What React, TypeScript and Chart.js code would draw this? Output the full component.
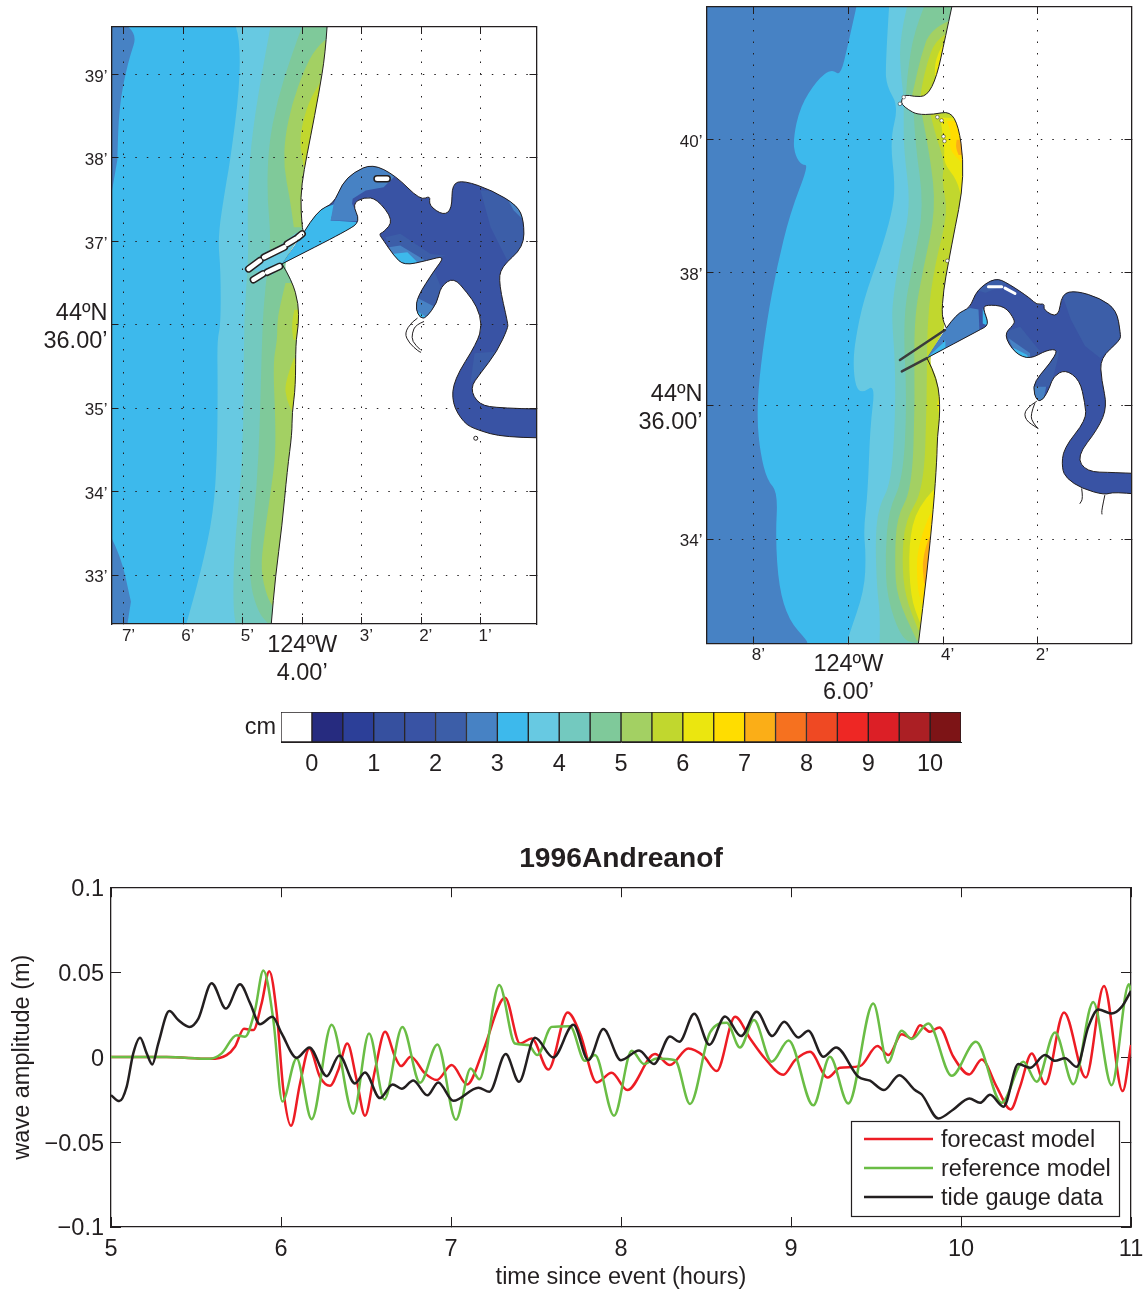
import React, { useEffect, useRef } from "react";
import { Chart, registerables } from "chart.js";

Chart.register(...registerables);
Chart.defaults.font.family = "'Liberation Sans', Arial, sans-serif";
Chart.defaults.color = "#231f20";

type P = [number, number];
const INK = "#231f20";
const C = {
  navy: "#3953a4", mid: "#3c5ea8", steel: "#4782c4", sky: "#3db9ec", light: "#67c9e2", teal: "#73c9bf",
  green: "#7fc99a", lime: "#a3d063", ygreen: "#c1d72e", yellow: "#ebe60f", gold: "#ffdd00", amber: "#fbae17",
};

/* ---------- wave gauge series: [hours, metres] ---------- */
const forecastSeries: P[] = [[5,0],[5.327,0],[5.582,-0.001],[5.68,0.0012],[5.729,0.0061],[5.782,0.0167],[5.837,0.0159],[5.886,0.0316],[5.931,0.0506],[5.975,0.0257],[6.014,-0.0194],[6.059,-0.0404],[6.112,-0.0155],[6.167,0.0051],[6.229,-0.0116],[6.288,-0.0169],[6.337,-0.0076],[6.39,0.008],[6.445,-0.0135],[6.494,-0.0345],[6.553,-0.0076],[6.612,0.0149],[6.671,0.0002],[6.706,-0.0053],[6.763,0.0002],[6.847,-0.0096],[6.916,-0.0135],[7.004,-0.0047],[7.094,-0.0161],[7.19,0.0041],[7.318,0.0349],[7.406,0.008],[7.475,0.011],[7.573,-0.0073],[7.686,0.0263],[7.759,0.0139],[7.857,-0.0149],[7.945,-0.0092],[8.037,-0.0194],[8.2,0.0018],[8.288,-0.0047],[8.396,0.0051],[8.484,0.0008],[8.563,-0.0082],[8.671,0.0237],[8.759,0.011],[8.847,-0.0008],[8.955,-0.0104],[9.024,-0.0018],[9.112,0.0031],[9.216,-0.012],[9.288,-0.0063],[9.406,-0.0053],[9.508,0.0065],[9.573,0.0012],[9.651,0.0135],[9.71,0.011],[9.759,0.0188],[9.818,0.0149],[9.873,0.0175],[9.955,0.0002],[10.049,-0.0102],[10.122,-0.0014],[10.21,-0.0175],[10.292,-0.0308],[10.347,-0.0175],[10.416,0.0022],[10.495,-0.0159],[10.606,0.0263],[10.734,-0.012],[10.841,0.0418],[10.951,-0.02],[11,0.0071]];
const referenceSeries: P[] = [[5,0],[5.327,0],[5.582,-0.001],[5.651,0.0022],[5.739,0.0129],[5.788,0.012],[5.847,0.0276],[5.896,0.051],[5.955,0.0218],[6.008,-0.0261],[6.092,-0.0008],[6.18,-0.0365],[6.298,0.019],[6.425,-0.0333],[6.518,0.0139],[6.608,-0.0249],[6.714,0.0178],[6.818,-0.0151],[6.92,0.0075],[7.029,-0.0369],[7.116,-0.0067],[7.167,-0.0131],[7.284,0.0424],[7.376,0.008],[7.455,0.0071],[7.508,0.0012],[7.592,0.0178],[7.7,0.0182],[7.788,-0.0022],[7.847,0.0012],[7.959,-0.0345],[8.063,0.0037],[8.135,-0.0041],[8.21,-0.0008],[8.318,-0.0018],[8.406,-0.0276],[8.524,0.0145],[8.622,0.0202],[8.7,0.0057],[8.782,0.0218],[8.886,-0.0027],[8.986,0.0098],[9.131,-0.0284],[9.229,0.0002],[9.337,-0.0273],[9.484,0.0316],[9.569,-0.0033],[9.651,0.0155],[9.71,0.0106],[9.808,0.0198],[9.945,-0.011],[10.088,0.009],[10.239,-0.0269],[10.367,-0.0027],[10.445,-0.0145],[10.553,0.0145],[10.661,-0.0159],[10.778,0.0325],[10.886,-0.0165],[10.988,0.0429],[11,0.0384]];
const gaugeSeries: P[] = [[5,-0.0224],[5.049,-0.0259],[5.092,-0.0175],[5.131,0.0022],[5.171,0.0114],[5.21,0.0022],[5.243,-0.0043],[5.278,0.008],[5.343,0.0271],[5.396,0.0218],[5.461,0.0178],[5.514,0.0227],[5.592,0.0435],[5.676,0.0286],[5.759,0.0429],[5.818,0.0318],[5.876,0.0194],[5.949,0.0237],[6.004,0.0139],[6.092,-0.0004],[6.167,0.0057],[6.269,-0.0112],[6.343,0.001],[6.435,-0.0155],[6.494,-0.009],[6.582,-0.0241],[6.657,-0.0161],[6.71,-0.0186],[6.778,-0.0137],[6.861,-0.0225],[6.925,-0.0149],[7.014,-0.0257],[7.161,-0.018],[7.226,-0.0204],[7.322,0.0018],[7.4,-0.0145],[7.494,0.0114],[7.602,-0.0002],[7.72,0.019],[7.808,-0.0018],[7.896,0.0165],[8,-0.0018],[8.106,0.0039],[8.194,-0.0041],[8.288,0.0122],[8.343,0.009],[8.431,0.0255],[8.52,0.0073],[8.612,0.0239],[8.706,0.0124],[8.798,0.0267],[8.89,0.0124],[8.96,0.0208],[9.043,0.0116],[9.102,0.0155],[9.19,0.0002],[9.265,0.0057],[9.396,-0.0116],[9.465,-0.0139],[9.547,-0.0194],[9.637,-0.0106],[9.729,-0.0194],[9.769,-0.022],[9.867,-0.0361],[9.955,-0.0308],[10.049,-0.0243],[10.112,-0.0269],[10.171,-0.0222],[10.25,-0.0292],[10.337,-0.0041],[10.406,-0.0063],[10.494,0.0012],[10.553,-0.0022],[10.612,-0.0006],[10.68,-0.0057],[10.749,0.0178],[10.808,0.028],[10.886,0.0257],[10.945,0.0296],[11,0.039]];
const timeTicks = [5, 6, 7, 8, 9, 10, 11];
const waveTicks = [-0.1, -0.05, 0, 0.05, 0.1];
const waveTickLabels = ["\u22120.1", "\u22120.05", "0", "0.05", "0.1"];
const legendNames = ["forecast model", "reference model", "tide gauge data"];

/* ---------- colour bar ---------- */
const barLower = [-0.5,0,0.5,1,1.5,2,2.5,3,3.5,4,4.5,5,5.5,6,6.5,7,7.5,8,8.5,9,9.5,10];
const barColours = ["#ffffff","#262b7f","#2c3f98","#36509f","#3953a4","#3c5ea8","#4782c4","#3db9ec","#67c9e2","#73c9bf","#7fc99a","#a3d063","#c1d72e","#ebe60f","#ffdd00","#fbae17","#f6711f","#ef4923","#ee2724","#dc1f26","#ab1f24","#7d1416"];
const barTicks = [0,1,2,3,4,5,6,7,8,9,10];

/* ---------- left map: [minutes W of 124, minutes N of 44] ---------- */
const L = { w: 7.207, e: 0.058, s: 32.413, n: 39.57 };
const leftLon = [7,6,5,4,3,2,1];
const leftLat = [33,34,35,36,37,38,39];
const leftBase: P[] = [[7.21,39.58],[7.21,32.41],[0.06,32.41],[0.06,39.58]];
const leftDeepNorth: P[] = [[7.3,39.7],[6.73,39.58],[6.94,39.13],[7.08,38.61],[7.11,37.97],[7.25,37.4],[7.3,37.4]];
const leftDeepSouth: P[] = [[7.25,33.5],[7.06,33.26],[6.88,32.68],[6.94,32.41],[7.21,32.41]];
const leftLight: P[] = [[5.12,39.58],[5.05,39.45],[5.05,38.85],[5.21,37.97],[5.29,37.65],[5.42,37.05],[5.37,36.65],[5.37,36.0],[5.43,35.82],[5.42,35.26],[5.43,34.46],[5.49,33.74],[5.71,33.02],[5.95,32.41],[0.06,32.41],[0.06,39.58]];
const leftTeal: P[] = [[4.53,39.58],[4.64,39.17],[4.81,38.45],[4.90,37.85],[4.92,37.25],[4.90,36.85],[4.98,36.06],[4.98,35.26],[5.01,34.26],[5.15,33.26],[5.16,32.62],[5.12,32.41],[0.06,32.41],[0.06,39.58]];
const leftGreen: P[] = [[4.0,39.58],[4.17,39.25],[4.42,38.69],[4.57,38.13],[4.59,37.53],[4.52,37.01],[4.62,36.46],[4.67,35.98],[4.71,34.86],[4.76,34.06],[4.88,33.26],[4.87,32.86],[4.73,32.54],[4.56,32.41],[0.06,32.41],[0.06,39.58]];
const leftLimeNorth: P[] = [[3.62,39.41],[3.78,39.31],[3.97,39.05],[4.17,38.65],[4.29,38.25],[4.31,37.89],[4.21,37.53],[4.14,37.17],[3.47,37.17],[3.47,39.41]];
const leftLimeSouth: P[] = [[4.28,36.5],[4.39,36.18],[4.42,36.0],[4.42,35.82],[4.49,35.54],[4.45,34.86],[4.45,34.46],[4.50,34.14],[4.64,33.46],[4.70,33.06],[4.59,32.74],[4.49,32.62],[3.9,32.62],[3.9,36.5]];
const leftOliveNorth: P[] = [[3.69,38.91],[3.86,38.73],[4.0,38.41],[4.04,38.17],[3.97,37.89],[3.5,37.89],[3.5,38.91]];
const leftOliveMid: P[] = [[4.13,36.18],[4.18,36.02],[4.15,35.82],[3.8,35.82],[3.8,36.18]];
const leftOliveSouth: P[] = [[4.14,35.6],[4.30,35.3],[4.26,35.1],[4.17,34.96],[3.8,34.96],[3.8,35.6]];
const leftMouth: P[] = [[4.9,36.67],[4.1,37.1],[4.0,37.12],[4.34,36.73],[4.5,36.6]];
const leftLand: P[] = [[3.58,39.58],[3.61,39.25],[3.72,38.77],[3.86,38.25],[3.97,37.85],[4.03,37.53],[4.0,37.17],[3.98,37.12],[4.34,36.73],[4.17,36.53],[4.06,36.25],[4.06,36.0],[4.11,35.78],[4.11,35.26],[4.17,34.94],[4.17,34.7],[4.25,34.26],[4.34,33.58],[4.45,32.98],[4.52,32.41],[0.06,32.41],[0.06,39.58]];
const leftCoastNorth: P[] = [[3.58,39.58],[3.61,39.25],[3.72,38.77],[3.86,38.25],[3.97,37.85],[4.03,37.53],[4.0,37.17],[3.98,37.12]];
const leftCoastSouth: P[] = [[4.34,36.73],[4.17,36.53],[4.06,36.25],[4.06,36.0],[4.11,35.78],[4.11,35.26],[4.17,34.94],[4.17,34.7],[4.25,34.26],[4.34,33.58],[4.45,32.98],[4.52,32.41]];
const leftBay: P[] = [[3.97,37.11],[3.75,37.37],[3.47,37.45],[3.33,37.69],[3.13,37.83],[2.82,37.93],[2.43,37.79],[2.01,37.49],[1.84,37.55],[1.87,37.43],[1.62,37.31],[1.48,37.39],[1.48,37.69],[1.28,37.73],[0.80,37.61],[0.38,37.43],[0.27,37.25],[0.27,36.93],[0.66,36.69],[0.69,36.49],[0.54,36.02],[0.54,35.96],[0.72,35.68],[1.0,35.42],[1.18,35.24],[1.03,35.04],[0.66,35.0],[-0.6,34.98],[-0.6,34.64],[0.61,34.65],[1.06,34.74],[1.28,34.82],[1.48,35.06],[1.45,35.34],[1.06,35.78],[0.97,36.0],[1.06,36.22],[1.22,36.38],[1.45,36.57],[1.67,36.46],[1.73,36.26],[1.92,36.08],[2.01,36.08],[2.09,36.18],[2.06,36.34],[1.78,36.65],[1.59,36.83],[1.90,36.77],[2.29,36.71],[2.46,36.83],[2.63,37.01],[2.71,37.09],[2.63,37.11],[2.46,37.25],[2.74,37.51],[2.96,37.53],[3.16,37.45],[3.02,37.24],[3.24,37.13],[4.34,36.73]];
const leftChannel: P[] = [[3.97,37.11],[3.75,37.37],[3.44,37.45],[3.52,37.25],[3.02,37.23],[3.24,37.13],[4.34,36.73]];
const leftUpperBay: P[] = [[3.47,37.45],[3.33,37.69],[3.13,37.83],[2.82,37.93],[2.43,37.79],[2.63,37.65],[2.93,37.61],[3.15,37.51],[3.16,37.45],[3.02,37.24],[3.52,37.25]];
const leftEastBay: P[] = [[1.0,37.61],[0.80,37.61],[0.38,37.43],[0.27,37.25],[0.27,36.93],[0.55,36.77],[0.83,37.17]];
const leftEastShoal: P[] = [[0.58,37.55],[0.38,37.43],[0.27,37.25],[0.44,37.37]];
const leftSouthBayMid: P[] = [[2.60,37.05],[2.35,37.09],[1.84,36.85],[1.59,36.83],[1.90,36.77],[2.29,36.71],[2.46,36.83]];
const leftSouthBayShoal: P[] = [[2.54,36.93],[2.35,36.95],[1.93,36.77],[2.29,36.71],[2.46,36.83]];
const leftSouthBaySky: P[] = [[2.49,36.85],[2.23,36.87],[2.06,36.75],[2.29,36.71]];
const leftArm: P[] = [[2.06,36.34],[1.78,36.65],[1.67,36.46],[1.73,36.26],[1.92,36.08],[2.09,36.18]];
const leftArmTip: P[] = [[2.06,36.32],[1.78,36.22],[1.92,36.08],[2.01,36.08],[2.09,36.18]];
const leftArmSky: P[] = [[2.09,36.17],[1.92,36.1],[2.01,36.08]];
const leftRiverPatch: P[] = [[1.1,35.66],[0.72,35.68],[1.0,35.42],[1.17,35.3]];
const leftSloughOuter: P[] = [[2.06,36.08],[2.15,36.04],[2.28,35.9],[2.2,35.78],[2.04,35.68],[2.0,35.67]];
const leftSloughInner: P[] = [[1.95,36.04],[2.09,36.0],[2.15,35.9],[2.15,35.8],[2.01,35.7]];
const leftIslands: P[][] = [[[4.9,36.67],[4.71,36.77]],[[4.64,36.81],[4.30,36.93]],[[4.25,36.97],[4.11,37.03]],[[4.07,37.05],[4.0,37.09]],[[4.82,36.54],[4.66,36.61]],[[4.59,36.63],[4.38,36.70]],[[2.74,37.75],[2.57,37.75]]];
const leftPond: P[] = [[1.08,34.64]];

/* ---------- right map ---------- */
const R = { w: 8.998, e: 0.017, s: 32.43, n: 41.995 };
const rightLon = [8,6,4,2];
const rightLat = [34,36,38,40];
const rightBase: P[] = [[9,42],[9,32.43],[0.02,32.43],[0.02,42]];
const rightSky: P[] = [[5.83,42.0],[6.0,41.45],[6.17,40.95],[6.35,41.07],[6.66,40.9],[7.02,40.5],[7.17,40.0],[7.12,39.75],[6.98,39.62],[6.84,39.62],[7.23,38.9],[7.51,38.09],[7.72,37.29],[7.89,36.39],[7.93,35.79],[7.86,35.29],[7.72,34.89],[7.49,34.70],[7.54,34.03],[7.47,33.28],[7.26,32.78],[6.87,32.47],[6.87,32.43],[0.02,32.43],[0.02,42]];
const rightLight: P[] = [[5.14,42],[5.22,41.1],[5.19,40.8],[4.94,40.5],[5.12,40],[5.01,39.3],[5.08,38.9],[5.33,38.29],[5.68,37.59],[5.85,37.01],[5.90,36.64],[5.85,36.29],[5.71,36.19],[5.43,36.33],[5.54,35.69],[5.59,34.69],[5.68,34.13],[5.63,33.78],[5.66,33.23],[6.0,32.53],[6.03,32.43],[0.02,32.43],[0.02,42]];
const rightTeal: P[] = [[4.76,42],[4.93,41.5],[4.88,40.9],[4.83,40.65],[4.83,40.35],[4.83,39.85],[4.68,39],[4.91,38.29],[5.06,37.59],[5.08,37.29],[5.01,36.64],[5.01,35.79],[5.10,34.84],[5.36,34.48],[5.43,34.03],[5.40,33.28],[5.33,32.88],[5.34,32.43],[0.02,32.43],[0.02,42]];
const rightGreenNorth: P[] = [[4.40,42],[4.62,41.61],[4.75,41],[4.78,40.68],[3.5,40.68],[3.5,42]];
const rightLimeNorth: P[] = [[3.89,41.78],[4.27,41.66],[4.47,41.25],[4.61,40.8],[4.66,40.65],[3.8,40.65],[3.8,41.78]];
const rightOliveNorth: P[] = [[3.96,41.58],[4.17,41.48],[4.34,41.15],[4.45,40.8],[4.48,40.63],[3.9,40.63],[3.9,41.58]];
const rightYellowNorth: P[] = [[4.03,41.40],[4.17,41.2],[4.17,40.95],[3.9,40.95],[3.9,41.4]];
const rightGreenSouth: P[] = [[4.62,40.4],[4.59,39.95],[4.40,39],[4.62,38.19],[4.85,37.34],[4.76,36.04],[4.85,34.89],[5.15,34.43],[5.22,33.78],[5.19,33.13],[4.87,32.48],[4.52,32.43],[3.0,32.43],[3.0,40.4]];
const rightLimeSouth: P[] = [[4.45,40.4],[4.27,39.75],[4.15,38.95],[4.41,38.09],[4.62,37.29],[4.59,36.04],[4.66,34.74],[4.98,34.33],[5.02,33.68],[4.98,33.13],[4.55,32.47],[3.0,32.47],[3.0,40.4]];
const rightOliveSouth: P[] = [[4.27,40.4],[4.17,40.1],[3.96,39.65],[4.03,39.40],[3.89,38.9],[4.17,38.14],[4.34,37.29],[4.34,36.04],[4.41,34.74],[4.80,34.28],[4.87,33.68],[4.80,33.13],[4.52,32.63],[3.0,32.63],[3.0,40.4]];
const rightYellowUpper: P[] = [[4.06,40.33],[3.96,39.9],[3.99,39.65],[3.71,39.4],[3.6,39.1],[3.4,39.1],[3.4,40.33]];
const rightGoldUpper: P[] = [[3.92,40.28],[3.81,40.1],[3.89,39.87],[3.60,39.65],[3.4,39.65],[3.4,40.28]];
const rightAmberUpper: P[] = [[3.71,40],[3.74,39.9],[3.67,39.77],[3.4,39.77],[3.4,40]];
const rightYellowMid: P[] = [[4.06,36.19],[4.15,36.04],[4.06,35.84],[3.9,35.84],[3.9,36.19]];
const rightYellowMid2: P[] = [[4.10,35.54],[4.15,35.3],[4.13,35.19],[3.9,35.19],[3.9,35.54]];
const rightYellowSouth: P[] = [[4.20,34.74],[4.55,34.48],[4.73,33.93],[4.69,33.13],[4.48,32.73],[4.0,32.73],[4.0,34.74]];
const rightGoldSouth: P[] = [[4.27,34.38],[4.55,33.93],[4.55,33.28],[4.45,33.03],[4.0,33.03],[4.0,34.38]];
const rightAmberSouth: P[] = [[4.29,34.03],[4.45,33.73],[4.40,33.33],[4.0,33.33],[4.0,34.03]];
const rightCoastNorth: P[] = [[3.81,42.01],[3.96,41.51],[4.13,40.95],[4.34,40.65],[4.62,40.65],[4.80,40.68],[4.88,40.6],[4.87,40.53],[4.73,40.45],[4.55,40.38],[4.20,40.38],[3.85,40.43],[3.67,40.2],[3.57,39.7],[3.60,39.2],[3.74,38.7],[3.89,38.14],[3.99,37.74],[4.03,37.34],[3.93,37.17]];
const rightCoastSouth: P[] = [[4.34,36.72],[4.10,36.39],[4.06,35.89],[4.12,35.54],[4.13,35.19],[4.20,34.48],[4.34,33.48],[4.52,32.43]];
const rightLand: P[] = [...rightCoastNorth, ...rightCoastSouth, [0.02,32.43],[0.02,42]];
const rightBay: P[] = [[3.93,37.17],[3.71,37.39],[3.43,37.47],[3.29,37.74],[2.90,37.93],[2.62,37.84],[2.16,37.62],[2.02,37.52],[1.85,37.54],[1.88,37.44],[1.56,37.32],[1.49,37.69],[1.18,37.73],[0.68,37.62],[0.33,37.44],[0.25,37.09],[0.25,36.99],[0.68,36.72],[0.65,36.39],[0.53,35.99],[0.72,35.66],[1.18,35.24],[0.97,35.01],[0.40,35.0],[-0.6,34.97],[-0.6,34.64],[0.40,34.71],[0.58,34.66],[1.07,34.76],[1.39,34.91],[1.49,35.06],[1.46,35.36],[0.97,35.79],[1.0,36.04],[1.11,36.39],[1.42,36.55],[1.67,36.44],[1.74,36.29],[1.88,36.09],[2.02,36.07],[2.11,36.29],[1.95,36.47],[1.74,36.64],[1.56,36.85],[1.81,36.84],[2.16,36.70],[2.48,36.79],[2.72,37.07],[2.51,37.22],[2.48,37.29],[2.69,37.50],[3.08,37.52],[3.16,37.47],[3.02,37.22],[3.23,37.14],[4.34,36.72]];
const rightChannel: P[] = [[3.93,37.17],[3.71,37.39],[3.43,37.47],[3.25,37.45],[3.23,37.14],[4.34,36.72]];
const rightChannelSky: P[] = [[4.34,36.72],[3.95,36.98],[3.95,36.8]];
const rightNookSky: P[] = [[3.16,37.47],[3.04,37.2],[3.16,37.24]];
const rightSouthBay: P[] = [[2.58,37.14],[2.37,37.19],[1.95,36.82],[2.16,36.70],[2.48,36.79],[2.72,37.07]];
const rightSouthBayShoal: P[] = [[2.62,37.02],[2.16,36.79],[2.16,36.70],[2.48,36.79]];
const rightSouthBaySky: P[] = [[2.51,36.87],[2.23,36.77],[2.16,36.70],[2.48,36.79]];
const rightArmTip: P[] = [[2.11,36.29],[1.78,36.42],[1.88,36.09],[2.02,36.07]];
const rightArm: P[] = [[1.95,36.47],[1.74,36.64],[1.56,36.85],[1.56,36.75],[1.67,36.44],[1.74,36.29],[2.11,36.29]];
const rightEastBay: P[] = [[1.49,37.69],[1.18,37.73],[0.68,37.62],[0.33,37.44],[0.25,37.09],[0.25,36.99],[0.68,36.72],[1.0,36.9],[1.3,37.3]];
const rightNorthArc: P[] = [[3.29,37.74],[2.90,37.93],[2.62,37.84],[3.1,37.7]];
const rightStubA: P[] = [[1.07,34.76],[1.04,34.61],[1.11,34.53]];
const rightStubB: P[] = [[0.58,34.66],[0.65,34.43],[0.64,34.37]];
const rightSloughOuter: P[] = [[2.02,36.07],[2.27,35.96],[2.27,35.79],[1.99,35.66]];
const rightSloughInner: P[] = [[2.06,36.04],[2.16,35.86],[2.09,35.74],[1.99,35.66]];
const rightJettyNorth: P[] = [[3.96,37.14],[4.91,36.69]];
const rightJettySouth: P[] = [[4.34,36.72],[4.87,36.52]];
const rightSlits: P[][] = [[[3.04,37.79],[2.76,37.79]],[[2.69,37.77],[2.48,37.69]]];
const rightSpecks: P[] = [[4.03,40.29],[3.99,40.05],[3.97,39.98],[3.91,38.18],[4.12,40.34],[4.91,40.54],[4.83,40.64]];

const xy = (pts: P[]) => pts.map(([x, y]) => ({ x, y }));
const hidden = { showLine: false, pointRadius: 0 };
const poly = (pts: P[], color: string, tail = 2) => ({ data: xy(pts), polygon: color, tail, ...hidden });
const bayFill = (pts: P[], color: string) => ({ data: xy(pts), polygon: color, tail: 0, bay: true, ...hidden });
const region = (pts: P[], color: string) => ({ data: xy(pts), polygon: color, tail: pts.length, inside: true, ...hidden });
const outline = (pts: P[]) => ({ data: xy(pts), outline: INK, tail: 0, ...hidden });
const line = (pts: P[], color = INK, width = 1) => ({ data: xy(pts), showLine: true, borderColor: color, borderWidth: width, pointRadius: 0, tension: 0, borderCapStyle: "round", borderJoinStyle: "round" });
const stacked = (list: any[]) => list.map((d, i) => ({ ...d, order: -i }));

function trace(ctx: any, p: any[], tail: number) {
  const n = p.length;
  const m = n - tail;
  ctx.moveTo(p[0].x, p[0].y);
  for (let i = 1; i < m - 1; i++) {
    ctx.quadraticCurveTo(p[i].x, p[i].y, (p[i].x + p[i + 1].x) / 2, (p[i].y + p[i + 1].y) / 2);
  }
  if (m >= 2) ctx.lineTo(p[m - 1].x, p[m - 1].y);
  for (let k = Math.max(m, 0); k < n; k++) ctx.lineTo(p[k].x, p[k].y);
}

const polygonFill = {
  id: "polygonFill",
  beforeDatasetsDraw(chart: any) {
    const { ctx, chartArea: a } = chart;
    ctx.save();
    ctx.beginPath();
    ctx.rect(a.left, a.top, a.right - a.left, a.bottom - a.top);
    ctx.clip();
    let bayPts: any[] | null = null;
    chart.data.datasets.forEach((ds: any, i: number) => {
      const pts = chart.getDatasetMeta(i).data;
      if (ds.polygon) {
        if (ds.bay) bayPts = pts;
        ctx.save();
        if (ds.inside && bayPts) {
          ctx.beginPath();
          trace(ctx, bayPts, 0);
          ctx.closePath();
          ctx.clip();
        }
        ctx.beginPath();
        trace(ctx, pts, ds.tail);
        ctx.closePath();
        ctx.fillStyle = ds.polygon;
        ctx.fill();
        ctx.restore();
      } else if (ds.outline) {
        ctx.beginPath();
        trace(ctx, pts, 0);
        ctx.strokeStyle = ds.outline;
        ctx.lineWidth = 1;
        ctx.stroke();
      }
    });
    ctx.restore();
  },
};

const legendBox = {
  id: "legendBox",
  afterDatasetsDraw(chart: any) {
    const { ctx } = chart;
    ctx.save();
    ctx.fillStyle = "#fff";
    ctx.strokeStyle = INK;
    ctx.lineWidth = 1.2;
    ctx.fillRect(851.5, 281.5, 268, 95);
    ctx.strokeRect(851.5, 281.5, 268, 95);
    ctx.font = "23.5px 'Liberation Sans'";
    ctx.textBaseline = "middle";
    chart.data.datasets.forEach((ds: any, i: number) => {
      const y = 299 + i * 29;
      ctx.strokeStyle = ds.borderColor;
      ctx.lineWidth = 2.5;
      ctx.beginPath();
      ctx.moveTo(864, y);
      ctx.lineTo(933, y);
      ctx.stroke();
      ctx.fillStyle = INK;
      ctx.fillText(ds.label, 941, y + 1.5);
    });
    ctx.restore();
  },
};

const small = { family: "'Liberation Sans'", size: 17, lineHeight: 0.6 };
const smallY = { family: "'Liberation Sans'", size: 17, lineHeight: 1.2 };
const big = { family: "'Liberation Sans'", size: 23.5, lineHeight: 1.2 };

const noPadding = (s: any) => { s.paddingLeft = 0; s.paddingRight = 0; s.paddingTop = 0; s.paddingBottom = 0; };
const fixX = (h: number) => (s: any) => { s.height = h; noPadding(s); };
const fixY = (w: number) => (s: any) => { s.width = w; noPadding(s); };

function mapOptions(box: any, lons: number[], lats: number[], bigLon: number, lonText: string[], bottom: number, left: number, right: number, top: number): any {
  const setTicks = (list: number[]) => (s: any) => { s.ticks = list.map((value) => ({ value })); };
  const grid = { color: INK, lineWidth: 1, tickLength: -7, tickColor: INK, z: 1 };
  const border = { color: INK, width: 1.3, dash: [1.5, 10], z: 2 };
  return {
    responsive: false, animation: false, events: [],
    layout: { autoPadding: false, padding: { left: 0, right, top, bottom: 0 } },
    plugins: { legend: { display: false }, tooltip: { enabled: false }, title: { display: false } },
    scales: {
      x: {
        type: "linear", position: "bottom", reverse: true, min: box.e, max: box.w,
        afterBuildTicks: setTicks(lons), afterFit: fixX(bottom), grid, border,
        ticks: {
          autoSkip: false, maxRotation: 0, minRotation: 0, padding: 14, color: INK,
          font: (c: any) => (c.tick && c.tick.value === bigLon ? big : small),
          callback: (v: number) => (v === bigLon ? lonText : `  ${v}\u2019`),
        },
      },
      y: {
        type: "linear", position: "left", min: box.s, max: box.n,
        afterBuildTicks: setTicks(lats), afterFit: fixY(left), grid, border,
        ticks: {
          autoSkip: false, padding: 11, color: INK, labelOffset: 2.5,
          font: (c: any) => (c.tick && c.tick.value === 36 ? big : smallY),
          callback: (v: number) => (v === 36 ? ["44\u00baN", "36.00\u2019"] : `${v}\u2019`),
        },
      },
      xTop: {
        type: "linear", position: "top", reverse: true, min: box.e, max: box.w,
        afterBuildTicks: setTicks(lons), afterFit: fixX(0),
        grid: { ...grid, drawOnChartArea: false }, border, ticks: { display: false },
      },
      yRight: {
        type: "linear", position: "right", min: box.s, max: box.n,
        afterBuildTicks: setTicks(lats), afterFit: fixY(0),
        grid: { ...grid, drawOnChartArea: false }, border, ticks: { display: false },
      },
    },
  };
}

const leftDatasets = stacked([
  poly(leftBase, C.sky, 4), poly(leftDeepNorth, C.steel), poly(leftDeepSouth, C.steel), poly(leftLight, C.light), poly(leftTeal, C.teal),
  poly(leftGreen, C.green), poly(leftLimeNorth, C.lime), poly(leftLimeSouth, C.lime), poly(leftOliveNorth, C.ygreen),
  poly(leftOliveMid, C.ygreen), poly(leftOliveSouth, C.ygreen), poly(leftMouth, C.light, 5), poly(leftLand, "#ffffff"),
  outline(leftCoastNorth), outline(leftCoastSouth),
  bayFill(leftBay, C.navy), region(leftChannel, C.sky), region(leftUpperBay, C.steel), region(leftEastBay, C.mid),
  region(leftEastShoal, C.steel), region(leftSouthBayMid, C.mid), region(leftSouthBayShoal, C.steel), region(leftSouthBaySky, C.sky),
  region(leftArm, C.mid), region(leftArmTip, C.steel), region(leftArmSky, C.sky), region(leftRiverPatch, C.mid),
  outline(leftBay), outline(leftSloughOuter), outline(leftSloughInner),
  ...leftIslands.map((p) => line(p, INK, 7.5)), ...leftIslands.map((p) => line(p, "#ffffff", 4.5)),
  { data: xy(leftPond), showLine: false, pointRadius: 2, pointBackgroundColor: "#fff", pointBorderColor: INK, pointBorderWidth: 1 },
]);

const rightDatasets = stacked([
  poly(rightBase, C.steel, 4), poly(rightSky, C.sky), poly(rightLight, C.light), poly(rightTeal, C.teal), poly(rightGreenNorth, C.green),
  poly(rightLimeNorth, C.lime), poly(rightOliveNorth, C.ygreen), poly(rightYellowNorth, C.yellow),
  poly(rightGreenSouth, C.green), poly(rightLimeSouth, C.lime), poly(rightOliveSouth, C.ygreen),
  poly(rightYellowUpper, C.yellow), poly(rightGoldUpper, C.gold), poly(rightAmberUpper, C.amber),
  poly(rightYellowMid, C.yellow), poly(rightYellowMid2, C.yellow), poly(rightYellowSouth, C.yellow),
  poly(rightGoldSouth, C.gold), poly(rightAmberSouth, C.amber), poly(rightLand, "#ffffff"),
  outline(rightCoastNorth), outline(rightCoastSouth),
  bayFill(rightBay, C.navy), region(rightChannel, C.steel), region(rightChannelSky, C.sky), region(rightNookSky, C.sky),
  region(rightSouthBay, C.mid), region(rightSouthBayShoal, C.steel), region(rightSouthBaySky, C.sky),
  region(rightArmTip, C.steel), region(rightArm, C.mid), region(rightEastBay, C.mid), region(rightNorthArc, C.mid),
  outline(rightBay), outline(rightStubA), outline(rightStubB), outline(rightSloughOuter), outline(rightSloughInner),
  line(rightJettyNorth, "#3a3a3c", 2.5), line(rightJettySouth, "#3a3a3c", 2.5),
  ...rightSlits.map((p) => line(p, "#ffffff", 3)),
  { data: xy(rightSpecks), showLine: false, pointRadius: 1.8, pointBackgroundColor: "#fff", pointBorderColor: INK, pointBorderWidth: 0.5 },
]);

function useChart(ref: React.RefObject<HTMLCanvasElement | null>, build: () => any) {
  useEffect(() => {
    const chart = new Chart(ref.current as HTMLCanvasElement, build());
    return () => chart.destroy();
  }, []);
}

export default function App() {
  const leftRef = useRef<HTMLCanvasElement>(null);
  const rightRef = useRef<HTMLCanvasElement>(null);
  const barRef = useRef<HTMLCanvasElement>(null);
  const waveRef = useRef<HTMLCanvasElement>(null);

  useChart(leftRef, () => ({
    type: "scatter",
    data: { datasets: leftDatasets },
    options: mapOptions(L, leftLon, leftLat, 4, ["124\u00baW", "4.00\u2019"], 76, 111.5, 560 - 536.5, 27),
    plugins: [polygonFill],
  }));
  useChart(rightRef, () => ({
    type: "scatter",
    data: { datasets: rightDatasets },
    options: mapOptions(R, rightLon, rightLat, 6, ["124\u00baW", "6.00\u2019"], 710 - 643.5, 86.5, 12.5, 7),
    plugins: [polygonFill],
  }));
  useChart(barRef, () => ({
    type: "bar",
    data: {
      labels: ["cm"],
      datasets: barLower.map((lo, i) => ({
        data: [[lo, lo + 0.5]], backgroundColor: barColours[i], borderColor: INK, borderWidth: 1, borderSkipped: false,
        grouped: false, barPercentage: 1, categoryPercentage: 1,
      })),
    },
    options: {
      indexAxis: "y", responsive: false, animation: false, events: [],
      layout: { autoPadding: false, padding: { top: 12, right: 19, left: 0, bottom: 0 } },
      plugins: { legend: { display: false }, tooltip: { enabled: false } },
      scales: {
        x: {
          type: "linear", min: -0.5, max: 10.5, position: "bottom",
          afterBuildTicks: (s: any) => { s.ticks = barTicks.map((value) => ({ value })); },
          afterFit: fixX(48),
          grid: { display: false, drawTicks: false }, border: { color: INK },
          ticks: { autoSkip: false, padding: 8, color: INK, font: big, maxRotation: 0 },
        },
        y: {
          type: "category", position: "left",
          afterFit: fixY(61),
          grid: { display: false, drawTicks: false }, border: { color: INK },
          ticks: { padding: 5, color: INK, font: big, labelOffset: 1 },
        },
      },
    },
  }));
  useChart(waveRef, () => {
    const tickGrid = { drawOnChartArea: false, tickLength: -10, color: INK, tickColor: INK, lineWidth: 1 };
    const border = { color: INK, width: 1.3 };
    const xTicks = (s: any) => { s.ticks = timeTicks.map((value) => ({ value })); };
    const yTicks = (s: any) => { s.ticks = waveTicks.map((value) => ({ value })); };
    const series = (label: string, pts: P[], color: string) => ({
      label, data: xy(pts), showLine: true, borderColor: color, borderWidth: 2.5, pointRadius: 0, cubicInterpolationMode: "monotone",
    });
    return {
      type: "scatter",
      data: {
        datasets: stacked([
          series(legendNames[0], forecastSeries, "#ed1c24"),
          series(legendNames[1], referenceSeries, "#6abd45"),
          series(legendNames[2], gaugeSeries, "#231f20"),
        ]),
      },
      options: {
        responsive: false, animation: false, events: [],
        layout: { autoPadding: false, padding: { right: 13, left: 0, top: 0, bottom: 0 } },
        plugins: {
          legend: { display: false }, tooltip: { enabled: false },
          title: {
            display: true, text: "1996Andreanof", fullSize: false, color: INK, padding: { top: 2, bottom: 11.4 },
            font: { family: "'Liberation Sans'", size: 28.2, weight: "bold", lineHeight: 1.2 },
          },
        },
        scales: {
          x: {
            type: "linear", position: "bottom", min: 5, max: 11, afterBuildTicks: xTicks,
            afterFit: fixX(65), grid: tickGrid, border,
            ticks: { autoSkip: false, padding: 18, color: INK, font: big, maxRotation: 0 },
            title: { display: true, text: "time since event (hours)", color: INK, font: big, padding: { top: 0, bottom: 0 } },
          },
          y: {
            type: "linear", position: "left", min: -0.1, max: 0.1, afterBuildTicks: yTicks,
            afterFit: fixY(111), grid: tickGrid, border,
            ticks: { autoSkip: false, padding: 17, color: INK, font: big, labelOffset: 2, callback: (_v: number, i: number) => waveTickLabels[i] },
            title: { display: true, text: "wave amplitude (m)", color: INK, font: big, padding: { top: 8, bottom: 0 } },
          },
          xTop: {
            type: "linear", position: "top", min: 5, max: 11, afterBuildTicks: xTicks,
            afterFit: fixX(0), grid: tickGrid, border, ticks: { display: false },
          },
          yRight: {
            type: "linear", position: "right", min: -0.1, max: 0.1, afterBuildTicks: yTicks,
            afterFit: fixY(0), grid: tickGrid, border, ticks: { display: false },
          },
        },
      },
      plugins: [legendBox],
    };
  });

  const at = (left: number, top: number): React.CSSProperties => ({ position: "absolute", left, top });
  return (
    <div style={{ position: "absolute", left: 0, top: 0, width: 1144, height: 1292, background: "#fff", overflow: "hidden" }}>
      <canvas ref={leftRef} width={560} height={700} style={at(0, 0)} />
      <canvas ref={rightRef} width={524} height={710} style={at(620, 0)} />
      <canvas ref={barRef} width={760} height={90} style={at(220, 700)} />
      <canvas ref={waveRef} width={1144} height={452} style={at(0, 840)} />
    </div>
  );
}
